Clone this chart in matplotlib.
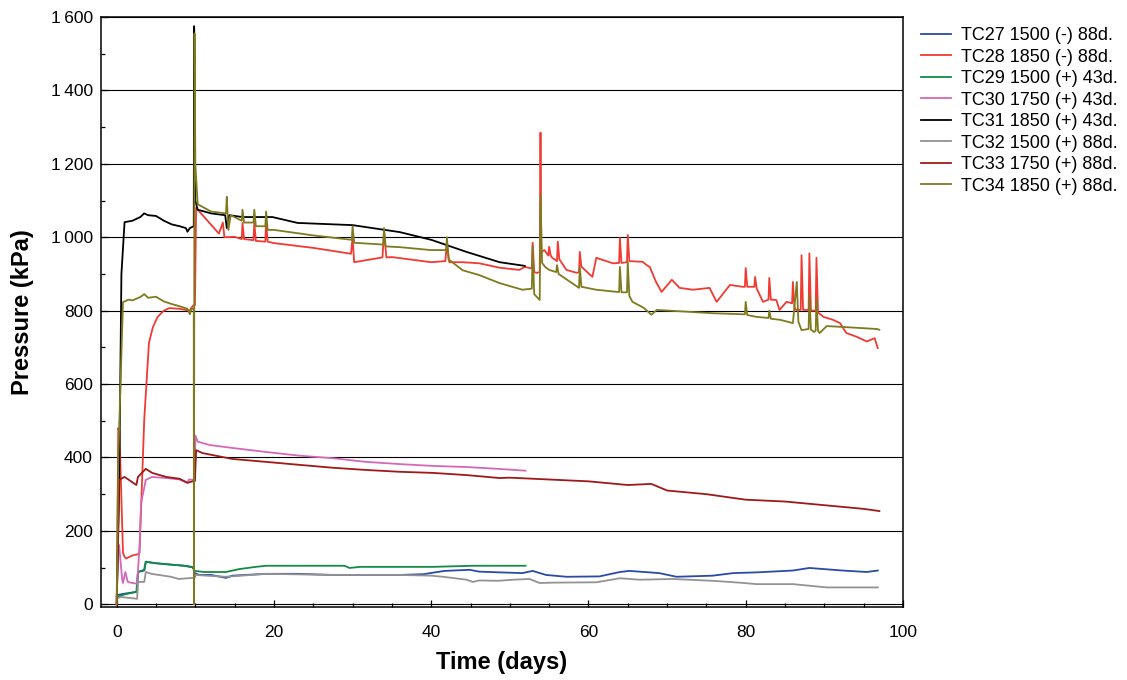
import matplotlib
matplotlib.use("Agg")
import matplotlib.pyplot as plt
from matplotlib.ticker import MultipleLocator, FuncFormatter

plt.rcParams['font.family'] = ['Liberation Sans', 'DejaVu Sans']

# pressure records, time in days, pressure in kPa
tc27_t = [0, 1, 2.6, 2.7, 3.5, 3.7, 5, 7, 8.6, 9.8, 9.9, 10.5, 12, 13.9, 14.7, 19, 23, 27.5, 31.7, 36, 39,
          41.7, 44.9, 46.1, 48.7, 51.6, 52.9, 54.6, 57.2, 61.4, 64, 65.2, 69, 71.2, 75.8, 78.4, 81.4, 86, 88.1,
          92.3, 95.4, 96.8]
tc27_p = [25, 29, 34, 88, 92, 116, 112, 108, 105, 100, 85, 80, 80, 72, 78, 83, 83, 80, 80, 80, 82,
          91, 94, 89, 87, 85, 91, 80, 75, 76, 88, 91, 85, 75, 78, 85, 87, 92, 99,
          92, 88, 92]

tc28_t = [0, 0.2, 0.35, 0.8, 1.0, 1.2, 2.0, 2.8, 2.9, 3.5, 4.1, 4.6, 5.2, 6.0, 6.7, 8, 9.3, 9.5, 9.8, 9.95,
          10.1, 11.8, 13, 13.5, 13.7, 15, 15.9, 16, 16.2, 17.4, 17.5, 17.7, 18.9, 19, 19.2, 20, 25, 29.8, 30,
          30.2, 33.8, 34, 34.3, 35, 40, 41.8, 42, 42.3, 44, 46.1, 48.7, 51.2, 51.9, 52.8, 52.9, 53.1, 53.4,
          53.8, 53.9, 54.0, 54.4, 54.9, 55, 55.2, 55.4, 56.0, 56.1, 56.3, 57.2, 58.5, 58.8, 58.9, 59.1, 60.5,
          61, 63.1, 63.9, 64, 64.2, 64.9, 65, 65.2, 66.9, 67.4, 67.8, 68.6, 69.3, 70.6, 71.6, 73.3, 75.4, 76.3,
          78, 79.6, 79.9, 80, 80.2, 81.1, 81.2, 81.4, 82.2, 82.9, 83, 83.2, 83.9, 84.3, 85.2, 85.9, 86, 86.2,
          86.4, 87.0, 87.1, 87.3, 88.0, 88.1, 88.3, 88.9, 89, 89.2, 89.9, 91.1, 92, 92.8, 94.1, 95.4, 96.4, 96.8]
tc28_p = [0, 480, 470, 140, 129, 125, 133, 137, 140, 502, 712, 755, 783, 800, 807, 805, 800, 808, 815, 815,
          1080, 1039, 1010, 1040, 1000, 1001, 995, 1039, 995, 992, 1040, 990, 988, 1040, 988, 984, 971, 955, 1000,
          932, 945, 1014, 945, 946, 932, 935, 986, 932, 932, 929, 917, 911, 919, 915, 985, 905, 903,
          905, 1285, 960, 965, 950, 974, 950, 944, 935, 988, 940, 911, 903, 905, 960, 920, 892,
          944, 929, 930, 998, 930, 932, 1006, 935, 933, 924, 919, 878, 851, 884, 862, 857, 862, 824,
          870, 865, 865, 916, 865, 865, 892, 860, 824, 830, 889, 830, 829, 802, 824, 820, 878, 810,
          802, 802, 951, 802, 802, 956, 800, 800, 944, 795, 783, 775, 766, 739, 729, 716, 725, 698]

tc29_t = [0, 1, 2.5, 2.7, 3.5, 3.7, 4.8, 6.9, 8.6, 9.6, 9.9, 11.1, 13.9, 15.6, 17.7, 19, 29, 29.6, 31, 35,
          40.2, 45.3, 52]
tc29_p = [20, 27, 34, 88, 94, 116, 112, 108, 105, 102, 91, 88, 88, 96, 102, 105, 105, 99, 102, 102,
          102, 105, 105]

tc30_t = [0, 0.15, 0.3, 0.7, 0.8, 1.1, 1.4, 2.0, 2.6, 2.9, 3.1, 3.7, 4.5, 6.3, 8, 9, 9.2, 9.8, 9.95, 10.0,
          10.3, 11.8, 14.7, 19, 23.2, 27.5, 31.7, 36, 40.2, 44.5, 48.5, 52]
tc30_p = [0, 150, 162, 67, 58, 88, 61, 58, 56, 157, 276, 339, 347, 344, 340, 331, 340, 339, 339, 460,
          443, 434, 426, 415, 405, 398, 388, 382, 377, 374, 369, 364]

tc31_t = [0, 0.3, 0.6, 1.0, 2, 3, 3.5, 4, 5, 6, 7, 8, 8.8, 9.0, 9.3, 9.8, 9.85, 10.0, 10.3, 12, 13.8, 14,
          14.3, 16, 19.8, 23, 30, 36, 40, 44.5, 48.7, 51.9]
tc31_p = [0, 300, 900, 1041, 1045, 1055, 1065, 1060, 1058, 1045, 1035, 1030, 1025, 1015, 1025, 1030, 1575,
          1100, 1075, 1065, 1060, 1025, 1060, 1055, 1055, 1039, 1033, 1014, 993, 960, 932, 922]

tc32_t = [0, 0.5, 1.8, 2.6, 2.7, 3.5, 3.7, 4.4, 6.9, 7.9, 9.6, 9.9, 10.1, 11.4, 13.9, 19, 27.5, 36, 40, 41.5,
          44.5, 45.3, 46.1, 48.5, 50.4, 52.5, 53.8, 55.4, 61, 64, 66.5, 70.7, 75.8, 79.2, 81.4, 86, 90.3, 96.8]
tc32_p = [15, 20, 17, 15, 61, 61, 88, 83, 75, 69, 72, 72, 80, 78, 75, 83, 80, 80, 78, 75,
          67, 61, 65, 64, 67, 69, 58, 59, 60, 71, 67, 69, 64, 59, 55, 55, 46, 46]

tc33_t = [0, 0.3, 1.0, 2.5, 2.7, 3.7, 4.5, 6.3, 8, 9, 9.8, 9.95, 10.1, 10.9, 14.7, 19, 23.2, 27.5, 31.7, 36,
          40.2, 44.5, 48.7, 50, 55, 60, 65, 68, 70, 75, 80, 85, 90, 95, 97]
tc33_p = [0, 339, 347, 325, 347, 369, 358, 347, 342, 331, 336, 336, 420, 412, 396, 388, 380, 372, 366, 361,
          358, 352, 344, 345, 340, 335, 325, 328, 310, 300, 285, 280, 270, 260, 254]

tc34_t = [0, 0.2, 0.8, 1.5, 2, 3, 3.5, 4, 5, 6, 7, 8, 9, 9.3, 9.5, 9.8, 9.82, 9.9, 10.0, 10.3, 12, 13.9, 14,
          14.2, 14.5, 15.9, 16, 16.2, 17.4, 17.5, 17.7, 18.9, 19, 19.2, 20, 25, 29.9, 30, 30.2, 33.9, 34, 34.2,
          36, 40, 41.9, 42, 42.2, 44, 46.1, 48.7, 51.6, 52.8, 52.9, 53.1, 53.8, 53.9, 54.1, 54.5, 55, 55.9, 56,
          56.2, 58.8, 58.9, 59.1, 61, 63.7, 63.9, 64, 64.2, 64.9, 65, 65.2, 65.6, 67, 68, 68.7, 75.8, 79.9, 80,
          80.2, 81.4, 82.9, 83, 83.2, 84.4, 86.0, 86.5, 86.7, 87.1, 88, 88.1, 88.3, 88.7, 88.9, 89, 89.2, 89.4,
          90.3, 92.8, 96.7, 97]
tc34_p = [0, 400, 823, 830, 828, 837, 845, 835, 838, 825, 818, 812, 805, 790, 805, 805, 0, 1555, 1200, 1090,
          1070, 1065, 1110, 1020, 1060, 1045, 1075, 1040, 1040, 1075, 1030, 1030, 1070, 1020, 1020, 1005, 993,
          1030, 985, 980, 1025, 975, 973, 965, 965, 1000, 940, 910, 897, 875, 857, 860, 975, 845, 829, 1115,
          930, 919, 911, 905, 924, 900, 862, 919, 865, 857, 851, 851, 919, 850, 850, 933, 840, 824, 808, 789,
          802, 793, 790, 824, 788, 783, 780, 800, 778, 775, 766, 878, 770, 747, 750, 842, 748, 742, 745, 829,
          745, 739, 758, 755, 750, 748]

series = [
    (tc27_t, tc27_p, "TC27 1500 (-) 88d.", "#2a4aa8"),
    (tc28_t, tc28_p, "TC28 1850 (-) 88d.", "#f03a32"),
    (tc29_t, tc29_p, "TC29 1500 (+) 43d.", "#138a45"),
    (tc30_t, tc30_p, "TC30 1750 (+) 43d.", "#d468b8"),
    (tc31_t, tc31_p, "TC31 1850 (+) 43d.", "#000000"),
    (tc32_t, tc32_p, "TC32 1500 (+) 88d.", "#939393"),
    (tc33_t, tc33_p, "TC33 1750 (+) 88d.", "#a01818"),
    (tc34_t, tc34_p, "TC34 1850 (+) 88d.", "#7f7a1e"),
]

fig = plt.figure(figsize=(11.27, 6.8), dpi=100)
ax = fig.add_axes([0.0896, 0.107, 0.7116, 0.868])

for t, p, lab, col in series:
    ax.plot(t, p, color=col, lw=1.3, label=lab)

ax.set_xlim(-2, 100)
ax.set_ylim(-8, 1600)
ax.xaxis.set_major_locator(MultipleLocator(20))
ax.xaxis.set_minor_locator(MultipleLocator(5))
ax.yaxis.set_major_locator(MultipleLocator(200))
ax.yaxis.set_minor_locator(MultipleLocator(100))
ax.yaxis.set_major_formatter(FuncFormatter(
    lambda v, pos: f"{int(v):,}".replace(",", "\u2009")))
ax.grid(axis='y', which='major', color='black', lw=0.8)
ax.set_axisbelow(True)
ax.tick_params(which='both', direction='in', labelsize=12.5, width=0.9)
ax.tick_params(which='major', length=5)
ax.tick_params(axis='x', which='major', pad=13)
ax.tick_params(axis='y', which='major', pad=6)
ax.tick_params(which='minor', length=3)
for s in ax.spines.values():
    s.set_linewidth(1.1)

ax.set_xlabel("Time (days)", fontsize=17, fontweight='bold', labelpad=8)
ax.set_ylabel("Pressure (kPa)", fontsize=17, fontweight='bold', labelpad=12)

ax.legend(loc='upper left', bbox_to_anchor=(0.817, 0.96), bbox_transform=fig.transFigure,
          frameon=False, fontsize=13, handlelength=1.7, handletextpad=0.55, labelspacing=0.25,
          borderpad=0, borderaxespad=0)

fig.savefig("out.png", dpi=100)
